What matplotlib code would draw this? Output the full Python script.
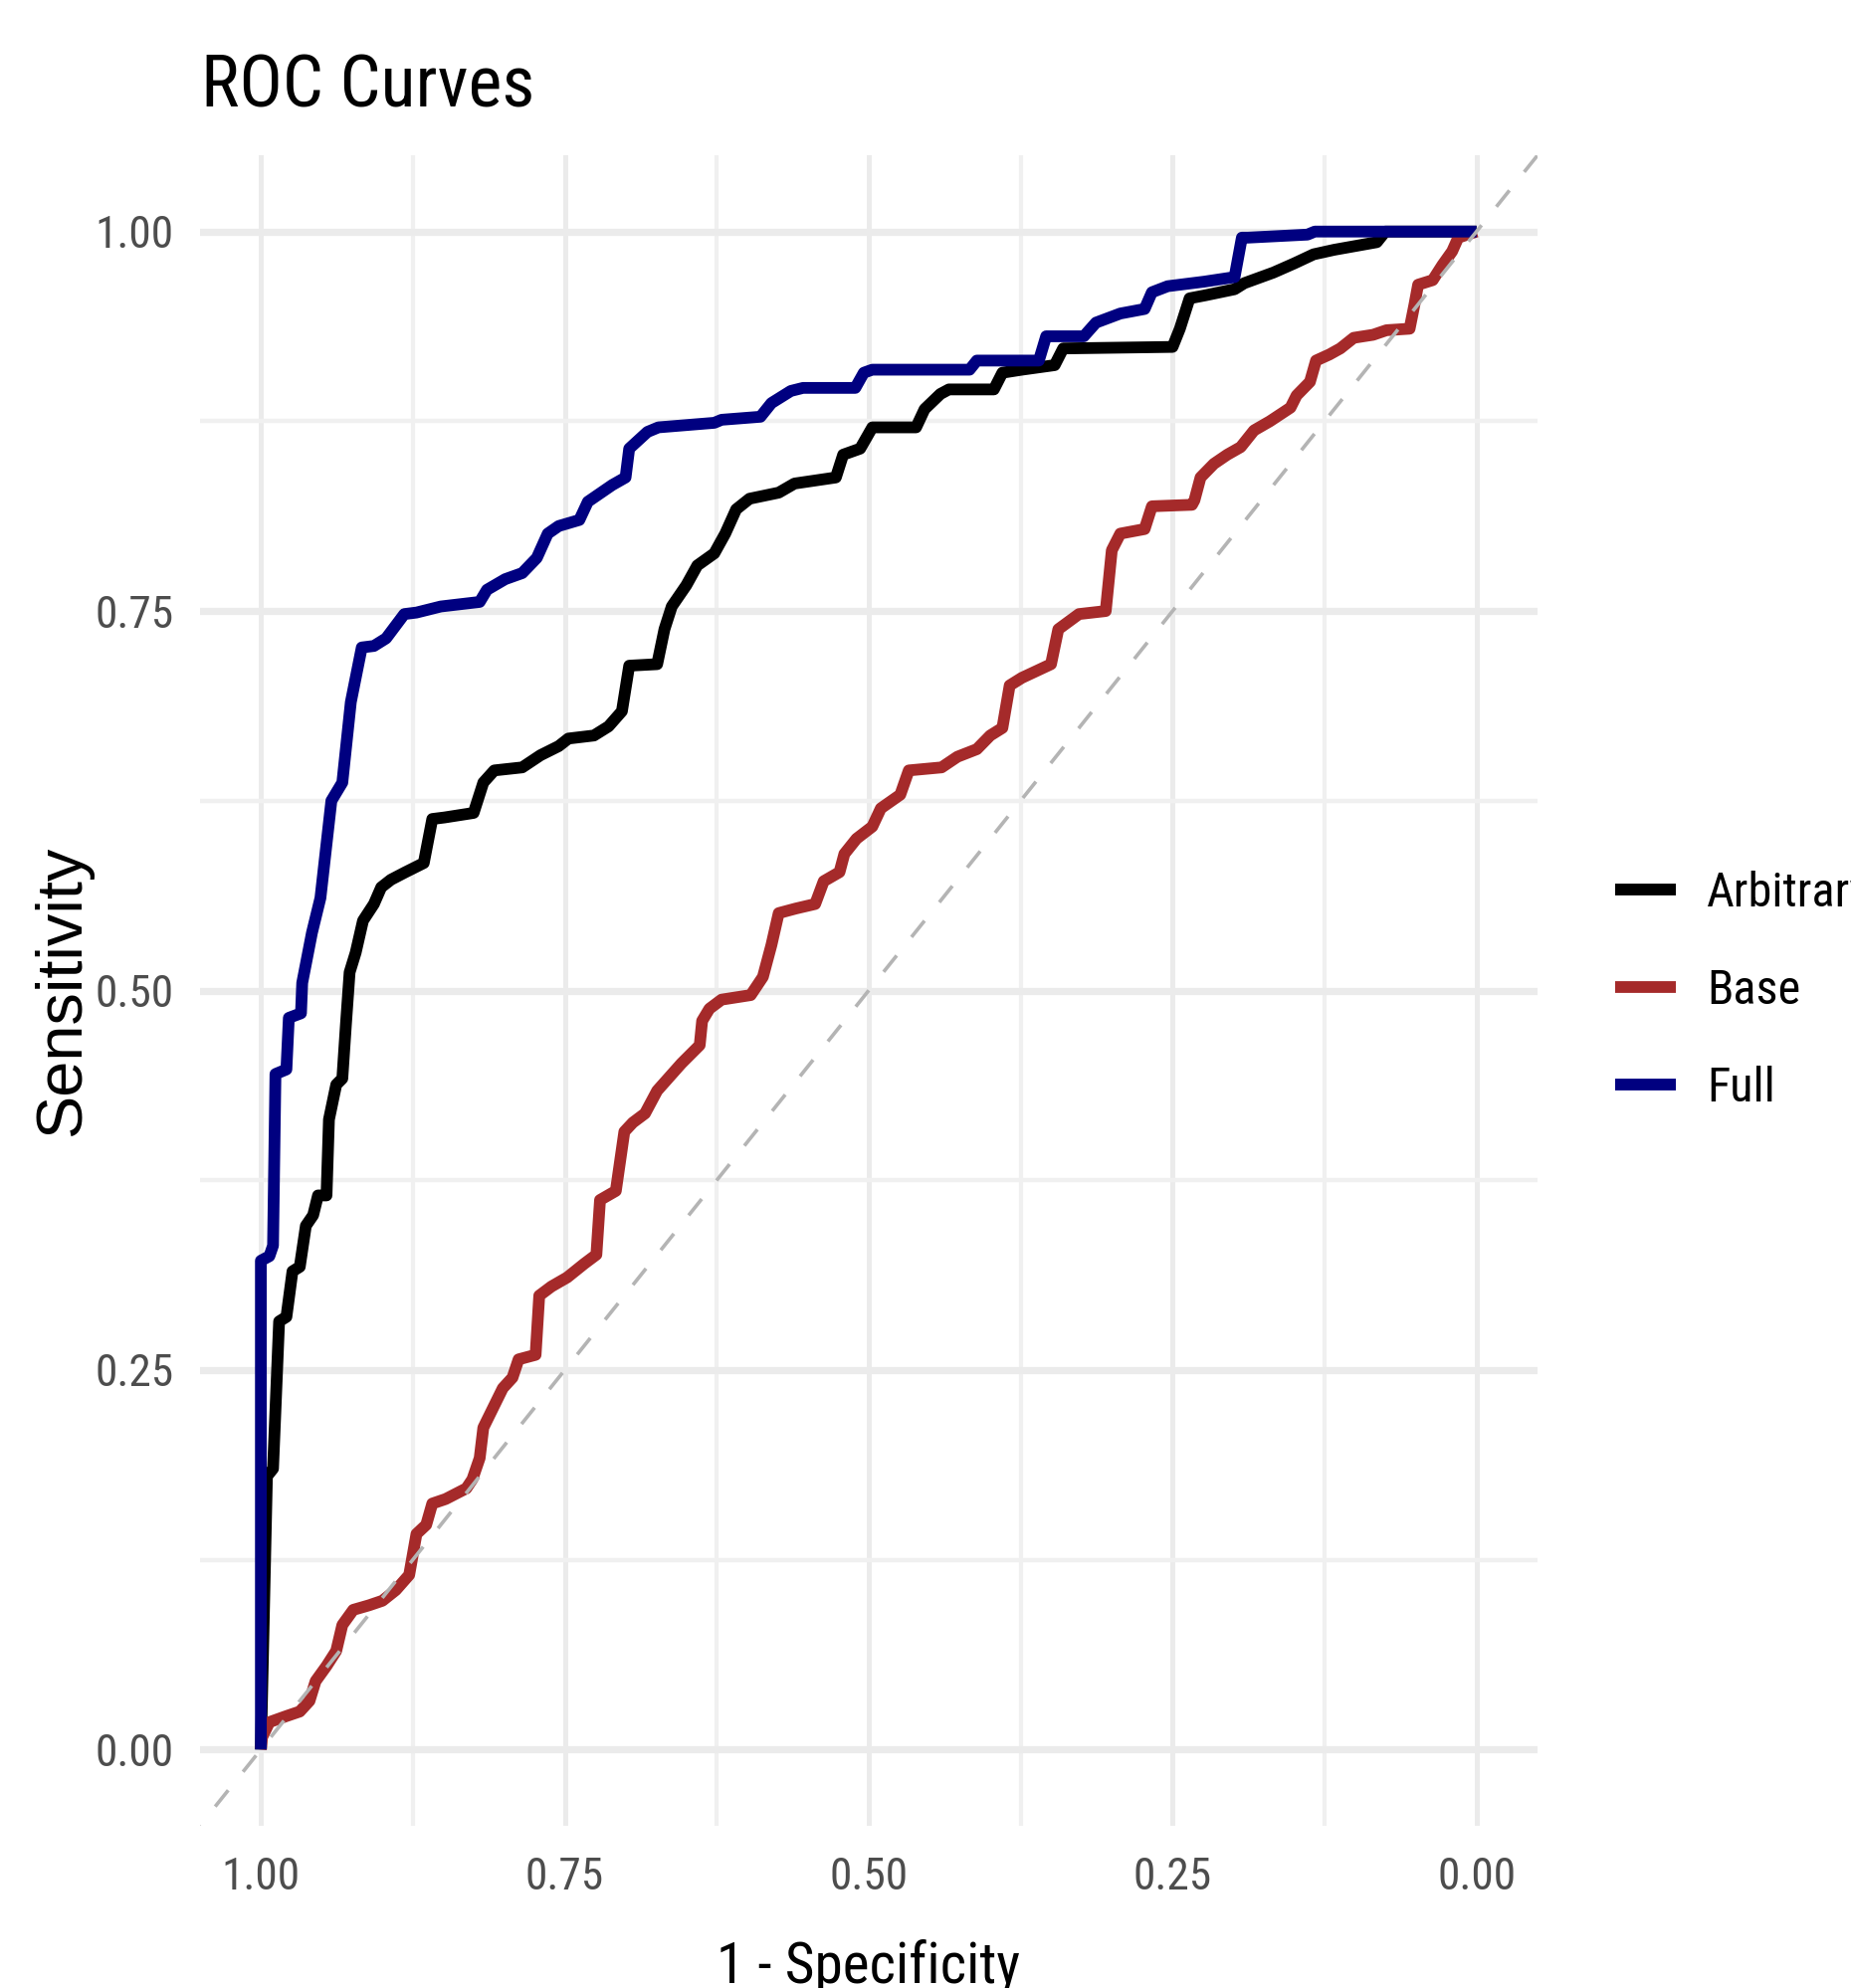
import matplotlib
matplotlib.use('Agg')
import matplotlib.pyplot as plt
from matplotlib import font_manager

# ROC curves (specificity, sensitivity)
full_spec = [1.0, 1.0, 0.993, 0.990, 0.988, 0.979, 0.977, 0.967, 0.966, 0.958,
             0.951, 0.942, 0.933, 0.926, 0.917, 0.907, 0.897, 0.882, 0.872, 0.852,
             0.820, 0.814, 0.799, 0.785, 0.773, 0.764, 0.755, 0.738, 0.731, 0.711,
             0.700, 0.697, 0.682, 0.673, 0.627, 0.621, 0.589, 0.580, 0.564, 0.554,
             0.511, 0.504, 0.497, 0.417, 0.411, 0.360, 0.354, 0.323, 0.313, 0.293,
             0.273, 0.267, 0.254, 0.224, 0.199, 0.193, 0.188, 0.139, 0.133, 0.0]
full_sens = [0.0, 0.322, 0.325, 0.332, 0.445, 0.448, 0.482, 0.485, 0.505, 0.538,
             0.561, 0.625, 0.637, 0.690, 0.726, 0.727, 0.732, 0.748, 0.749, 0.753,
             0.756, 0.764, 0.771, 0.775, 0.785, 0.801, 0.806, 0.810, 0.822, 0.833,
             0.838, 0.857, 0.868, 0.871, 0.874, 0.876, 0.878, 0.887, 0.895, 0.897,
             0.897, 0.907, 0.909, 0.909, 0.915, 0.915, 0.931, 0.931, 0.940, 0.946,
             0.949, 0.960, 0.964, 0.967, 0.970, 0.996, 0.996, 0.998, 1.0, 1.0]

arb_spec = [1.0, 0.995, 0.990, 0.985, 0.979, 0.974, 0.968, 0.963, 0.957, 0.953,
            0.946, 0.944, 0.938, 0.933, 0.930, 0.927, 0.922, 0.916, 0.907, 0.901,
            0.893, 0.881, 0.866, 0.859, 0.849, 0.825, 0.817, 0.808, 0.785, 0.770,
            0.755, 0.747, 0.726, 0.714, 0.703, 0.697, 0.674, 0.668, 0.662, 0.650,
            0.641, 0.627, 0.618, 0.609, 0.598, 0.574, 0.561, 0.527, 0.521, 0.507,
            0.497, 0.461, 0.454, 0.441, 0.434, 0.397, 0.390, 0.374, 0.347, 0.340,
            0.250, 0.244, 0.236, 0.223, 0.199, 0.191, 0.167, 0.150, 0.134, 0.117,
            0.082, 0.075, 0.0]
arb_sens = [0.0, 0.180, 0.185, 0.282, 0.285, 0.315, 0.318, 0.345, 0.352, 0.365,
            0.365, 0.415, 0.438, 0.442, 0.478, 0.512, 0.525, 0.546, 0.557, 0.568,
            0.573, 0.578, 0.584, 0.613, 0.614, 0.617, 0.637, 0.645, 0.647, 0.655,
            0.661, 0.666, 0.668, 0.674, 0.684, 0.714, 0.715, 0.738, 0.753, 0.767,
            0.780, 0.788, 0.801, 0.817, 0.824, 0.828, 0.834, 0.838, 0.853, 0.857,
            0.871, 0.871, 0.883, 0.893, 0.896, 0.896, 0.907, 0.909, 0.912, 0.923,
            0.924, 0.936, 0.956, 0.958, 0.962, 0.966, 0.973, 0.979, 0.985, 0.988,
            0.993, 1.0, 1.0]

base_spec = [1.0, 0.999, 0.993, 0.979, 0.968, 0.960, 0.955, 0.946, 0.938, 0.933,
             0.924, 0.911, 0.900, 0.889, 0.878, 0.872, 0.864, 0.859, 0.848, 0.831,
             0.826, 0.820, 0.817, 0.809, 0.801, 0.793, 0.788, 0.774, 0.771, 0.761,
             0.748, 0.734, 0.724, 0.721, 0.708, 0.701, 0.694, 0.684, 0.674, 0.664,
             0.654, 0.639, 0.637, 0.631, 0.621, 0.597, 0.587, 0.580, 0.574, 0.560,
             0.544, 0.537, 0.524, 0.520, 0.510, 0.497, 0.490, 0.474, 0.467, 0.440,
             0.427, 0.411, 0.400, 0.390, 0.384, 0.374, 0.350, 0.344, 0.327, 0.305,
             0.300, 0.293, 0.273, 0.267, 0.234, 0.232, 0.227, 0.216, 0.205, 0.194,
             0.183, 0.170, 0.153, 0.148, 0.137, 0.132, 0.121, 0.112, 0.101, 0.085,
             0.074, 0.055, 0.051, 0.048, 0.036, 0.028, 0.020, 0.015, 0.0]
base_sens = [0.0, 0.008, 0.018, 0.022, 0.025, 0.032, 0.045, 0.055, 0.065, 0.082,
             0.092, 0.095, 0.098, 0.105, 0.115, 0.142, 0.148, 0.162, 0.165, 0.172,
             0.178, 0.192, 0.212, 0.225, 0.238, 0.245, 0.257, 0.260, 0.299, 0.305,
             0.311, 0.320, 0.326, 0.362, 0.368, 0.407, 0.413, 0.419, 0.434, 0.443,
             0.452, 0.464, 0.480, 0.488, 0.494, 0.497, 0.509, 0.530, 0.551, 0.554,
             0.557, 0.572, 0.578, 0.590, 0.600, 0.608, 0.620, 0.629, 0.645, 0.647,
             0.654, 0.659, 0.668, 0.673, 0.701, 0.706, 0.715, 0.738, 0.748, 0.750,
             0.790, 0.801, 0.804, 0.819, 0.820, 0.823, 0.838, 0.847, 0.853, 0.858,
             0.869, 0.875, 0.884, 0.892, 0.901, 0.915, 0.919, 0.923, 0.930, 0.932,
             0.935, 0.936, 0.952, 0.965, 0.968, 0.978, 0.987, 0.996, 1.0]

labels = ['Arbitrary', 'Base', 'Full']
colors = ['black', '#A52A2A', '#000080']
ticks = [1.0, 0.75, 0.5, 0.25, 0.0]
tick_labels = ['1.00', '0.75', '0.50', '0.25', '0.00']

# a narrow sans face if the system has one, else Liberation Sans
names = {f.name for f in font_manager.fontManager.ttflist}
narrow = 'Liberation Sans'
for cand in ['Liberation Sans Narrow', 'Arial Narrow', 'Roboto Condensed',
             'Noto Sans Condensed', 'Open Sans Condensed']:
    if cand in names:
        narrow = cand
        break
plt.rcParams['font.family'] = [narrow, 'DejaVu Sans']

fig = plt.figure(figsize=(18.6, 19.98), dpi=100)
renderer = fig.canvas.get_renderer()
px = 100 / 72


def size_for(s, target_px, **kw):
    # font size (pt) that makes text s about target_px wide
    t = fig.text(0, 0, s, fontsize=100, **kw)
    w = t.get_window_extent(renderer).width
    t.remove()
    return 100 * target_px / w


title_fs = size_for('ROC Curves', 335)
tick_fs = size_for('0.50', 79)
leg_fs = size_for('Base', 94)
xlab_fs = size_for('1 - Specificity', 305)
ylab_fs = size_for('Sensitivity', 292, family=['Liberation Sans', 'DejaVu Sans'])

ax = fig.add_axes([0.1081, 0.0818, 0.7224, 0.8399])

for spec, sens, lab, col in zip([arb_spec, base_spec, full_spec],
                                [arb_sens, base_sens, full_sens], labels, colors):
    ax.plot(spec, sens, color=col, lw=8.5, label=lab, solid_joinstyle='round',
            solid_capstyle='butt', zorder=3)

ax.axline((1, 0), (0, 1), color='#B4B4B4', lw=2.6, ls=(0, (5.8, 6.6)), zorder=4)

ax.set_xlim(1.05, -0.05)
ax.set_ylim(-0.05, 1.05)
ax.set_xticks(ticks)
ax.set_xticklabels(tick_labels)
ax.set_yticks(ticks[::-1])
ax.set_yticklabels(tick_labels[::-1])
ax.set_xticks([0.875, 0.625, 0.375, 0.125], minor=True)
ax.set_yticks([0.125, 0.375, 0.625, 0.875], minor=True)

for s in ax.spines.values():
    s.set_visible(False)
tick_px = tick_fs * px
ax.tick_params(which='both', length=0)
ax.tick_params(axis='x', pad=(1891 - 1835 - 0.547 * tick_px) / px,
               labelsize=tick_fs, labelcolor='#4D4D4D')
ax.tick_params(axis='y', pad=19, labelsize=tick_fs, labelcolor='#4D4D4D')

ax.grid(which='major', axis='x', color='#EBEBEB', lw=3.6)
ax.grid(which='minor', axis='x', color='#F0F0F0', lw=3.0)
ax.grid(which='major', axis='y', color='#EBEBEB', lw=5.2)
ax.grid(which='minor', axis='y', color='#F0F0F0', lw=3.2)
ax.set_axisbelow(True)

ax.set_xlabel('1 - Specificity', fontsize=xlab_fs)
ax.xaxis.label.set_va('baseline')
ax.xaxis.set_label_coords(0.5, -0.0944)
ax.set_ylabel('Sensitivity', fontsize=ylab_fs, family=['Liberation Sans', 'DejaVu Sans'])
ax.yaxis.label.set_va('baseline')
ax.yaxis.set_label_coords(-0.090, 0.5)

fig.text(0.1086, 0.9464, 'ROC Curves', fontsize=title_fs, ha='left', va='baseline')

leg_px = leg_fs * px
ax.legend(loc='center left', bbox_to_anchor=(0.8726, 0.5015), bbox_transform=fig.transFigure,
          frameon=False, fontsize=leg_fs, handlelength=61 / leg_px,
          handletextpad=31 / leg_px, labelspacing=(108 - 1.16 * leg_px) / leg_px,
          borderpad=0, borderaxespad=0)

fig.savefig('out.png', dpi=100)
